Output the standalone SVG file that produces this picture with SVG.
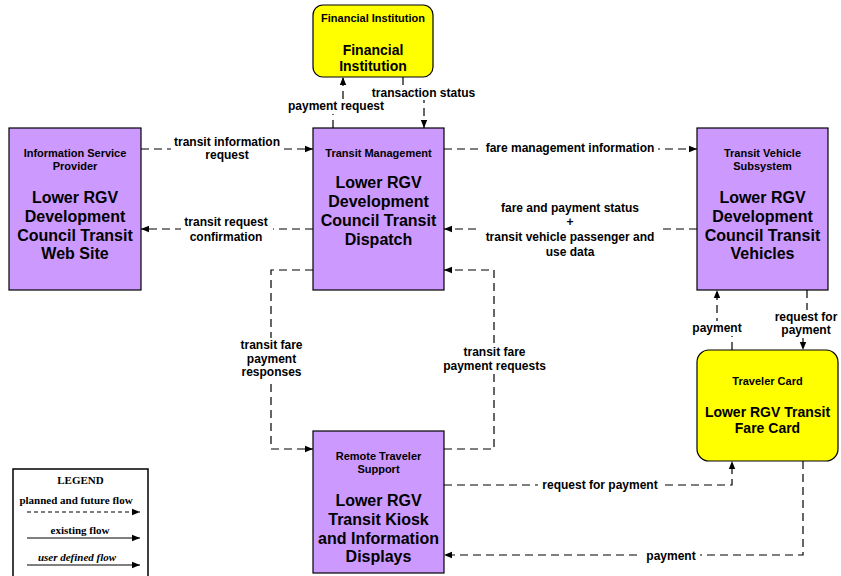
<svg xmlns="http://www.w3.org/2000/svg" width="841" height="576" viewBox="0 0 841 576">
<defs>
<marker id="ah" viewBox="0 0 8 8" refX="8" refY="4" markerWidth="8" markerHeight="8" markerUnits="userSpaceOnUse" orient="auto">
<path d="M0,0.8 L8,4 L0,7.2 Z" fill="#000"/>
</marker>
<style>
.pu{fill:#CC99FF;stroke:#000;stroke-width:1.2}
.ye{fill:#FFFF00;stroke:#000;stroke-width:1.2}
.t{font-family:"Liberation Sans",Arial,sans-serif;font-weight:bold;font-size:11px;text-anchor:middle;fill:#000}
.m{font-family:"Liberation Sans",Arial,sans-serif;font-weight:bold;font-size:16px;text-anchor:middle;fill:#000}
.m14{font-family:"Liberation Sans",Arial,sans-serif;font-weight:bold;font-size:14px;text-anchor:middle;fill:#000}
.c{fill:none;stroke:#000;stroke-width:1.2;stroke-dasharray:8,5;marker-end:url(#ah)}
.l{font-family:"Liberation Sans",Arial,sans-serif;font-weight:bold;font-size:12px;text-anchor:middle;fill:#000}
.bg{fill:#fff}
.lg{font-family:"Liberation Serif","Times New Roman",serif;font-weight:bold;font-size:11px;text-anchor:middle;fill:#000}
</style>
</defs>
<rect width="841" height="576" fill="#fff"/>

<g id="connectors">
<path class="c" d="M141,149 H313"/>
<path class="c" d="M313,229 H141"/>
<path class="c" d="M444,149 H697"/>
<path class="c" d="M697,229 H444"/>
<path class="c" d="M333,128 V106 H343 V77"/>
<path class="c" d="M403,77 V92 H424 V128"/>
<path class="c" d="M313,270 H271 V449 H313"/>
<path class="c" d="M444,449 H494 V270 H444"/>
<path class="c" d="M807,290 V325 H803 V350"/>
<path class="c" d="M732,350 V328 H717 V290"/>
<path class="c" d="M444,485 H732 V461"/>
<path class="c" d="M803,461 V555 H444"/>

<rect class="bg" x="171" y="136" width="112" height="26"/>
<text class="l" x="227" y="146">transit information</text>
<text class="l" x="227" y="158.5">request</text>

<rect class="bg" x="181" y="216" width="92" height="28"/>
<text class="l" x="226" y="226">transit request</text>
<text class="l" x="226" y="241">confirmation</text>

<rect class="bg" x="482" y="141" width="176" height="16"/>
<text class="l" x="570" y="152">fare management information</text>

<rect class="bg" x="481" y="201" width="178" height="58"/>
<text class="l" x="570" y="212">fare and payment status</text>
<text class="l" x="570" y="226">+</text>
<text class="l" x="570" y="241">transit vehicle passenger and</text>
<text class="l" x="570" y="255.5">use data</text>

<rect class="bg" x="291" y="99" width="91" height="15"/>
<text class="l" x="336" y="110">payment request</text>

<rect class="bg" x="368" y="85" width="111" height="15"/>
<text class="l" x="423.5" y="97">transaction status</text>

<rect class="bg" x="238" y="338" width="67" height="42"/>
<text class="l" x="271.5" y="349">transit fare</text>
<text class="l" x="271.5" y="362.5">payment</text>
<text class="l" x="271.5" y="376">responses</text>

<rect class="bg" x="440" y="345" width="109" height="29"/>
<text class="l" x="494.5" y="356">transit fare</text>
<text class="l" x="494.5" y="369.5">payment requests</text>

<rect class="bg" x="772" y="310" width="68" height="28"/>
<text class="l" x="806" y="320.5">request for</text>
<text class="l" x="806" y="334">payment</text>

<rect class="bg" x="689" y="321" width="56" height="15"/>
<text class="l" x="717" y="332">payment</text>

<rect class="bg" x="538" y="477" width="124" height="15"/>
<text class="l" x="600" y="488.5">request for payment</text>

<rect class="bg" x="642" y="548" width="58" height="15"/>
<text class="l" x="671" y="559.5">payment</text>
</g>

<g id="financial-institution">
<rect class="ye" x="313" y="5" width="120" height="72" rx="10" ry="10"/>
<text class="t" x="373" y="22">Financial Institution</text>
<text class="m14" x="373" y="55">Financial</text>
<text class="m14" x="373" y="71">Institution</text>
</g>

<g id="information-service-provider">
<rect class="pu" x="9" y="128" width="132" height="162"/>
<text class="t" x="75" y="157">Information Service</text>
<text class="t" x="75" y="170">Provider</text>
<text class="m" x="75" y="203">Lower RGV</text>
<text class="m" x="75" y="222">Development</text>
<text class="m" x="75" y="241">Council Transit</text>
<text class="m" x="75" y="259">Web Site</text>
</g>

<g id="transit-management">
<rect class="pu" x="313" y="128" width="131" height="162"/>
<text class="t" x="378.5" y="157">Transit Management</text>
<text class="m" x="378.5" y="188">Lower RGV</text>
<text class="m" x="378.5" y="207">Development</text>
<text class="m" x="378.5" y="226">Council Transit</text>
<text class="m" x="378.5" y="245">Dispatch</text>
</g>

<g id="transit-vehicle-subsystem">
<rect class="pu" x="697" y="128" width="131" height="162"/>
<text class="t" x="762.5" y="157">Transit Vehicle</text>
<text class="t" x="762.5" y="170">Subsystem</text>
<text class="m" x="762.5" y="203">Lower RGV</text>
<text class="m" x="762.5" y="222">Development</text>
<text class="m" x="762.5" y="241">Council Transit</text>
<text class="m" x="762.5" y="259">Vehicles</text>
</g>

<g id="traveler-card">
<rect class="ye" x="697" y="350" width="141" height="111" rx="12" ry="12"/>
<text class="t" x="767.5" y="385">Traveler Card</text>
<text class="m14" x="767.5" y="417">Lower RGV Transit</text>
<text class="m14" x="767.5" y="433">Fare Card</text>
</g>

<g id="remote-traveler-support">
<rect class="pu" x="313" y="431" width="131" height="142"/>
<text class="t" x="378.5" y="460">Remote Traveler</text>
<text class="t" x="378.5" y="473">Support</text>
<text class="m" x="378.5" y="506">Lower RGV</text>
<text class="m" x="378.5" y="525">Transit Kiosk</text>
<text class="m" x="378.5" y="544">and Information</text>
<text class="m" x="378.5" y="562">Displays</text>
</g>

<g id="legend">
<rect x="13" y="469" width="135" height="120" fill="#fff" stroke="#000" stroke-width="1.5"/>
<text class="lg" x="80.5" y="484">LEGEND</text>
<text class="lg" x="76" y="504">planned and future flow</text>
<line x1="27" y1="512" x2="140" y2="512" stroke="#000" stroke-width="1.2" stroke-dasharray="4,3" marker-end="url(#ah)"/>
<text class="lg" x="80" y="534">existing flow</text>
<line x1="27" y1="538" x2="140" y2="538" stroke="#000" stroke-width="1.2" marker-end="url(#ah)"/>
<text class="lg" x="77" y="561" font-style="italic">user defined flow</text>
<line x1="27" y1="565" x2="140" y2="565" stroke="#000" stroke-width="1.2" marker-end="url(#ah)"/>
</g>
</svg>
